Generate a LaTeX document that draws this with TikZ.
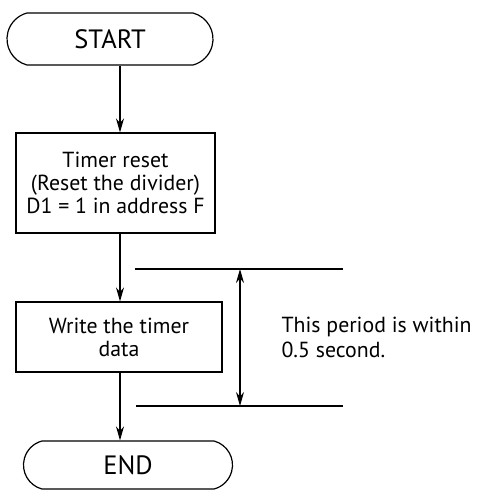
\documentclass[tikz,border=0pt]{standalone}
\usepackage{fontspec}
\setmainfont{PT Sans}
\usetikzlibrary{positioning,shapes.misc,arrows.meta}

\begin{document}
\begin{tikzpicture}[x=1pt, y=-1pt, line width=1.2pt,
   terminal/.style = {draw, rounded rectangle, rounded rectangle arc length=150,
                      inner sep=0pt, font=\fontsize{26.5}{27}\selectfont},
   process/.style = {draw, rectangle, inner sep=0pt, align=center,
                     font=\fontsize{21.8}{23}\selectfont},
   flow/.style = {-{Stealth[length=14pt,width=8pt]}},
   span/.style = {{Stealth[length=14pt,width=8pt]}-{Stealth[length=14pt,width=8pt]}}]
   \useasboundingbox (0,0) rectangle (478,491);
   % flow chart
   \node[terminal, minimum width=206pt, minimum height=52pt] (S) at (110,39) {START};
   \node[process, minimum width=199pt, minimum height=100pt] (reset) at (115.5,183)
      {Timer reset\\(Reset the divider)\\D1 = 1 in address F};
   \node[process, minimum width=206pt, minimum height=70pt] (write) at (119,337)
      {Write the timer\\data};
   \node[terminal, minimum width=209pt, minimum height=48pt] (E) at (128,465) {END};
   \coordinate (spine) at (120,0);
   \draw[flow] (S.south -| spine) -- (reset.north -| spine);
   \draw[flow] (reset.south -| spine) -- (write.north -| spine);
   \draw[flow] (write.south -| spine) -- (E.north -| spine);
   % period marks
   \coordinate (T1) at (135,269);
   \coordinate (T2) at (343,269);
   \coordinate (B1) at (136,406);
   \coordinate (B2) at (343,406);
   \coordinate (mark) at (240,0);
   \draw (T1) -- (T2);
   \draw (B1) -- (B2);
   \draw[span] (T1 -| mark) -- (B1 -| mark);
   \node[anchor=west, align=left, inner sep=0pt, font=\fontsize{21.8}{25}\selectfont]
      (period) at (281,337) {This period is within\\0.5 second.};
\end{tikzpicture}
\end{document}
